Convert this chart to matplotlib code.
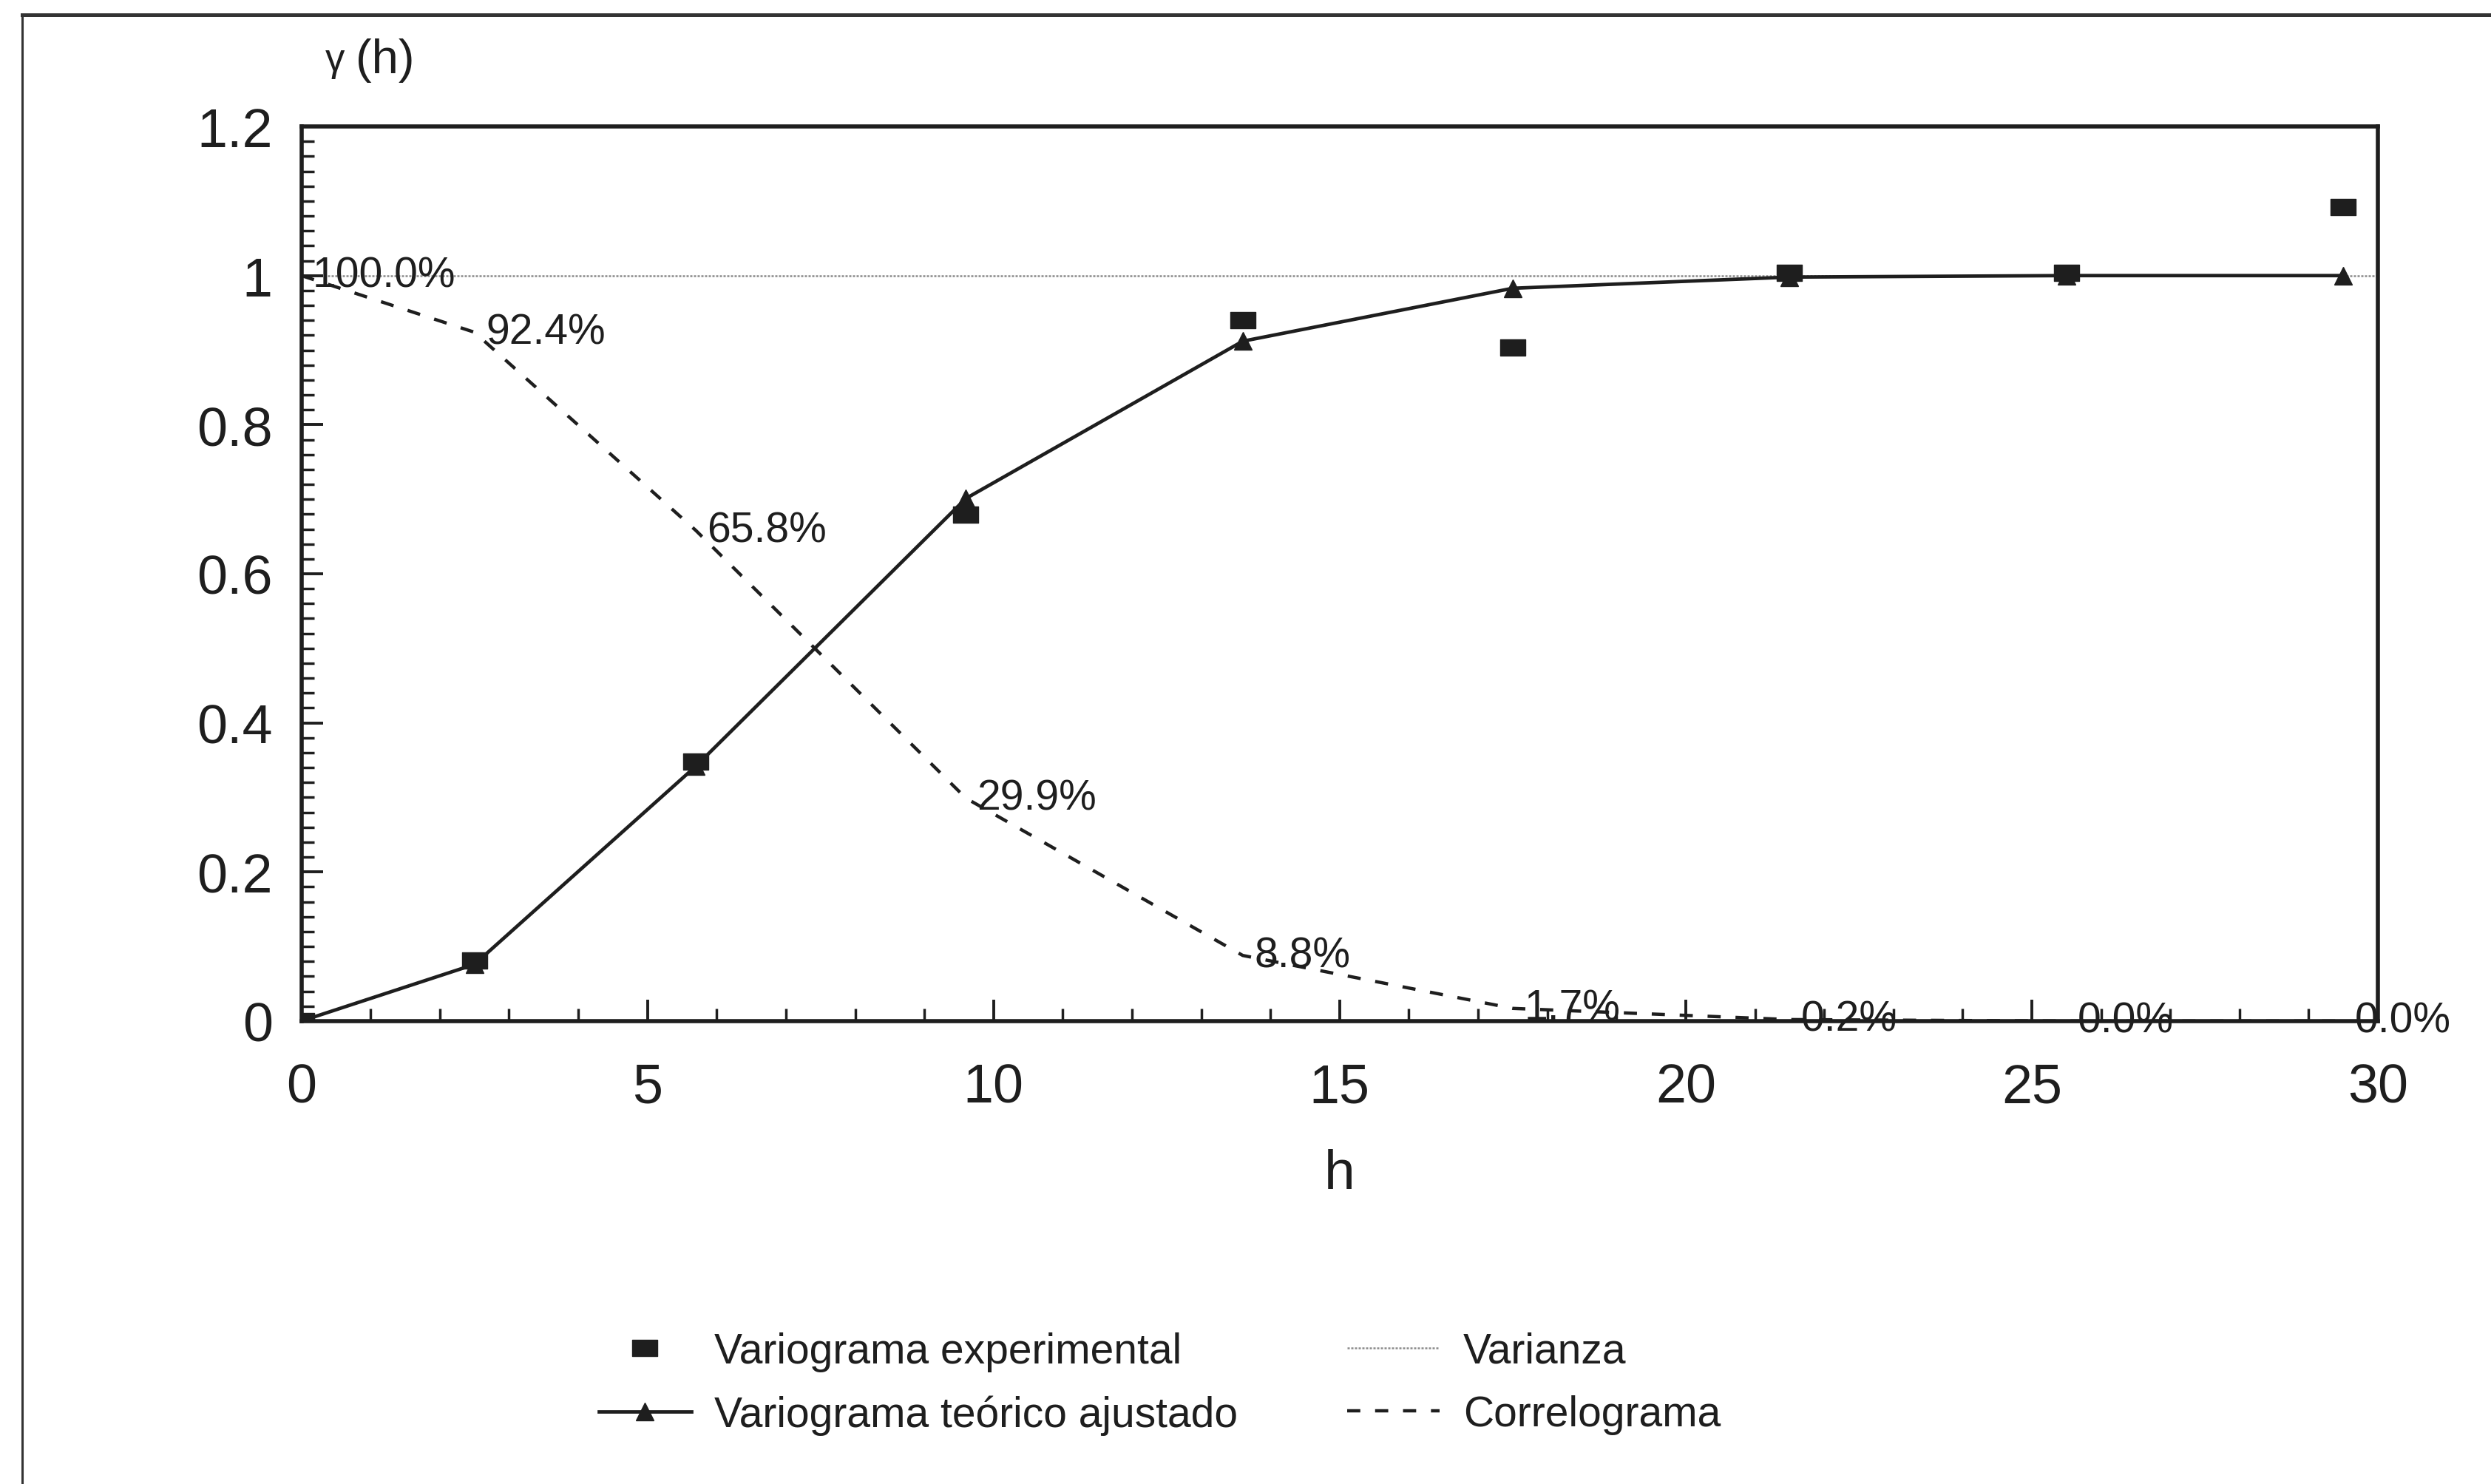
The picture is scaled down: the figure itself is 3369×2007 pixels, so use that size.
import matplotlib
matplotlib.use("Agg")
import matplotlib.pyplot as plt
from matplotlib.lines import Line2D
from matplotlib.path import Path

plt.rcParams['font.family'] = ['Liberation Sans', 'DejaVu Sans']

# ---- data ----
lags = [0.0, 2.5, 5.7, 9.6, 13.6, 17.5, 21.5, 25.5, 29.5]
exp_gamma = [0.0, 0.081, 0.348, 0.679, 0.940, 0.904, 1.004, 1.004, 1.092]
teo_gamma = [0.0, 0.076, 0.342, 0.701, 0.912, 0.983, 0.998, 1.0, 1.0]
corr_lag = [1.0, 0.924, 0.658, 0.299, 0.088, 0.017, 0.002, 0.0, 0.0]
corr_labels = ["100.0%", "92.4%", "65.8%", "29.9%", "8.8%", "1.7%", "0.2%", "0.0%", "0.0%"]

varianza = 1.0
xlim = (0, 30)
ylim = (0, 1.2)
xticks = [0, 5, 10, 15, 20, 25, 30]
yticks = [0, 0.2, 0.4, 0.6, 0.8, 1.0, 1.2]
ytick_labels = ["0", "0.2", "0.4", "0.6", "0.8", "1", "1.2"]

ink = '#1e1e1e'

fig = plt.figure(figsize=(33.69, 20.08), dpi=100)
ax = fig.add_axes([0.121, 0.3118, 0.9546 - 0.121, 0.9143 - 0.3118])

# rectangle marker (wider than tall)
rect = Path([(-1, -0.62), (1, -0.62), (1, 0.62), (-1, 0.62), (-1, -0.62)],
            [Path.MOVETO, Path.LINETO, Path.LINETO, Path.LINETO, Path.CLOSEPOLY])

h_var, = ax.plot(xlim, [varianza, varianza], color='#8a8a8a', lw=1.8,
                 dashes=(1.2, 0.8), zorder=1, label='Varianza')
h_corr, = ax.plot(lags, corr_lag, color=ink, lw=3.2, dashes=(4, 4.5), zorder=2,
                  label='Correlograma')
h_teo, = ax.plot(lags, teo_gamma, color=ink, lw=3.4, marker='^', ms=17,
                 markerfacecolor=ink, markeredgecolor=ink, zorder=3,
                 label='Variograma teórico ajustado')
h_exp, = ax.plot(lags, exp_gamma, linestyle='none', marker=rect, ms=25,
                 color=ink, zorder=4, label='Variograma experimental')

for hx, cv, lab in zip(lags, corr_lag, corr_labels):
    ax.annotate(lab, (hx, cv), xytext=(11, 0), textcoords='offset points',
                ha='left', va='center', fontsize=41, color=ink,
                annotation_clip=False, zorder=5)

ax.set_xlim(*xlim)
ax.set_ylim(*ylim)
ax.set_xticks(xticks)
ax.set_xticks(range(0, 31), minor=True)
ax.set_yticks(yticks)
ax.set_yticklabels(ytick_labels)
ax.set_yticks([i * 0.02 for i in range(61)], minor=True)

ax.tick_params(axis='both', which='major', direction='in', length=21, width=2.8,
               labelsize=53, colors=ink)
ax.tick_params(axis='both', which='minor', direction='in', length=12, width=2.5,
               colors=ink)
ax.tick_params(axis='x', which='major', pad=40)
ax.tick_params(axis='y', which='major', pad=28)
ax.tick_params(top=False, right=False, which='both')

for s in ax.spines.values():
    s.set_linewidth(4.0)
    s.set_color(ink)

ax.set_xlabel('h', fontsize=54, color=ink, labelpad=34)
fig.text(0.1345, 0.9594, 'γ', fontsize=38, color=ink, ha='center', va='center')
fig.text(0.1545, 0.9594, '(h)', fontsize=47, color=ink, ha='center', va='center')

leg = fig.legend(handles=[h_exp, h_teo, h_var, h_corr], ncol=2,
                 loc='center', bbox_to_anchor=(0.4655, 0.0679),
                 frameon=False, fontsize=41, handlelength=2.2,
                 handletextpad=0.55, columnspacing=2.6, labelspacing=0.55)
for t in leg.get_texts():
    t.set_color(ink)

# outer scanned frame (left and top edges)
fig.add_artist(Line2D([0.009, 0.009], [-0.01, 0.9895], transform=fig.transFigure,
                      color='#333333', lw=2.2))
fig.add_artist(Line2D([0.009, 1.01], [0.9895, 0.9895], transform=fig.transFigure,
                      color='#333333', lw=3.6))

fig.savefig('out.png', dpi=100, facecolor='white')
